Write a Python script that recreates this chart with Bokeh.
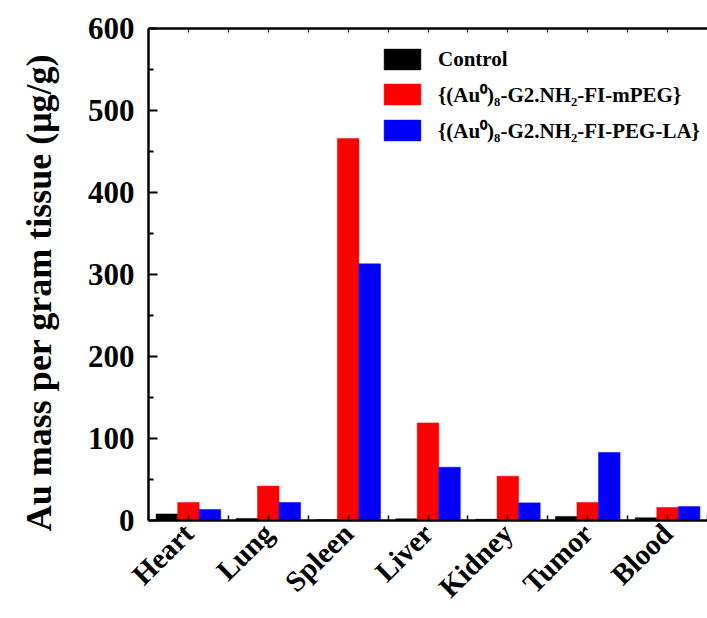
from bokeh.plotting import figure
from bokeh.models import (ColumnDataSource, FixedTicker, LinearAxis, Legend,
                          LegendItem, Range1d)
from bokeh.transform import dodge
from bokeh.embed import file_html
from bokeh.resources import INLINE

organs = ["Heart", "Lung", "Spleen", "Liver", "Kidney", "Tumor", "Blood"]
control = [8, 2.5, 1, 2, 1.5, 5, 3.3]
mpeg = [22, 42, 466, 119, 54, 22, 16]
pegla = [13.5, 22, 313, 65, 21.5, 83, 17]
labels = ["Control", "{(Au\u2070)\u2088-G2.NH\u2082-FI-mPEG}",
          "{(Au\u2070)\u2088-G2.NH\u2082-FI-PEG-LA}"]
colors = ["#000000", "#ff0000", "#0000ff"]
y_ticks = [0, 100, 200, 300, 400, 500, 600]
y_title = "Au mass per gram tissue (\u03bcg/g)"

pos = list(range(1, len(organs) + 1))
src = ColumnDataSource(dict(x=pos, control=control, mpeg=mpeg, pegla=pegla))

FONT = "Liberation Serif"

p = figure(width=707, height=618, output_backend="svg", toolbar_location=None,
           x_range=Range1d(0.5, 7.5), y_range=Range1d(0, 600),
           min_border_left=148, min_border_right=0, min_border_top=28,
           min_border_bottom=98)
p.xgrid.visible = False
p.ygrid.visible = False
p.outline_line_color = None
p.background_fill_color = "white"
p.border_fill_color = "white"

bw = 0.27
r0 = p.vbar(x=dodge("x", -bw, range=p.x_range), top="control", width=bw, bottom=0,
            source=src, fill_color=colors[0], line_color=colors[0], line_width=0.5)
r1 = p.vbar(x=dodge("x", 0, range=p.x_range), top="mpeg", width=bw, bottom=0,
            source=src, fill_color=colors[1], line_color=colors[1], line_width=0.5)
r2 = p.vbar(x=dodge("x", bw, range=p.x_range), top="pegla", width=bw, bottom=0,
            source=src, fill_color=colors[2], line_color=colors[2], line_width=0.5)

xt = FixedTicker(ticks=pos, minor_ticks=[i + 0.5 for i in range(0, 8)])

# x axis
xa = p.xaxis[0]
xa.ticker = xt
xa.major_label_overrides = {i: organs[i - 1] for i in pos}
xa.major_label_orientation = 0.78
xa.major_label_text_font = FONT
xa.major_label_text_font_style = "bold"
xa.major_label_text_font_size = "29px"
xa.major_label_text_color = "black"
xa.major_label_standoff = 8
xa.axis_line_width = 2.5
xa.axis_line_color = "black"
xa.major_tick_in = 5
xa.major_tick_out = 0
xa.minor_tick_in = 5
xa.minor_tick_out = 0
xa.major_tick_line_width = 1.5
xa.minor_tick_line_width = 1.5

# y axis
ya = p.yaxis[0]
ya.ticker = FixedTicker(ticks=y_ticks, minor_ticks=[50, 150, 250, 350, 450, 550])
ya.axis_label = y_title + "\u00a0\u00a0\u00a0\u00a0"
ya.axis_label_text_font = FONT
ya.axis_label_text_font_style = "bold"
ya.axis_label_text_font_size = "36px"
ya.axis_label_text_color = "black"
ya.axis_label_standoff = 26
ya.major_label_text_font = FONT
ya.major_label_text_font_style = "bold"
ya.major_label_text_font_size = "31px"
ya.major_label_text_color = "black"
ya.major_label_standoff = 14
ya.axis_line_width = 2.5
ya.axis_line_color = "black"
ya.major_tick_in = 9
ya.major_tick_out = 0
ya.minor_tick_in = 5
ya.minor_tick_out = 0
ya.major_tick_line_width = 2
ya.minor_tick_line_width = 2

# top axis (line with inward ticks, no labels)
ta = LinearAxis(ticker=xt, axis_line_width=2.5, axis_line_color="black",
                major_tick_in=4, major_tick_out=0, minor_tick_in=4, minor_tick_out=0,
                major_label_text_font_size="0px", major_label_standoff=0)
ta.major_label_overrides = {i: "" for i in pos}
p.add_layout(ta, "above")

legend = Legend(items=[LegendItem(label=labels[0], renderers=[r0]),
                       LegendItem(label=labels[1], renderers=[r1]),
                       LegendItem(label=labels[2], renderers=[r2])],
                location=(231, 376), padding=0, margin=0, spacing=8,
                glyph_width=46, glyph_height=26, label_height=22,
                label_standoff=13, border_line_color=None,
                background_fill_alpha=0,
                label_text_font=FONT, label_text_font_style="bold",
                label_text_font_size="21px", label_text_color="black")
p.add_layout(legend, "center")

open("out.html", "w").write(file_html(p, INLINE))
